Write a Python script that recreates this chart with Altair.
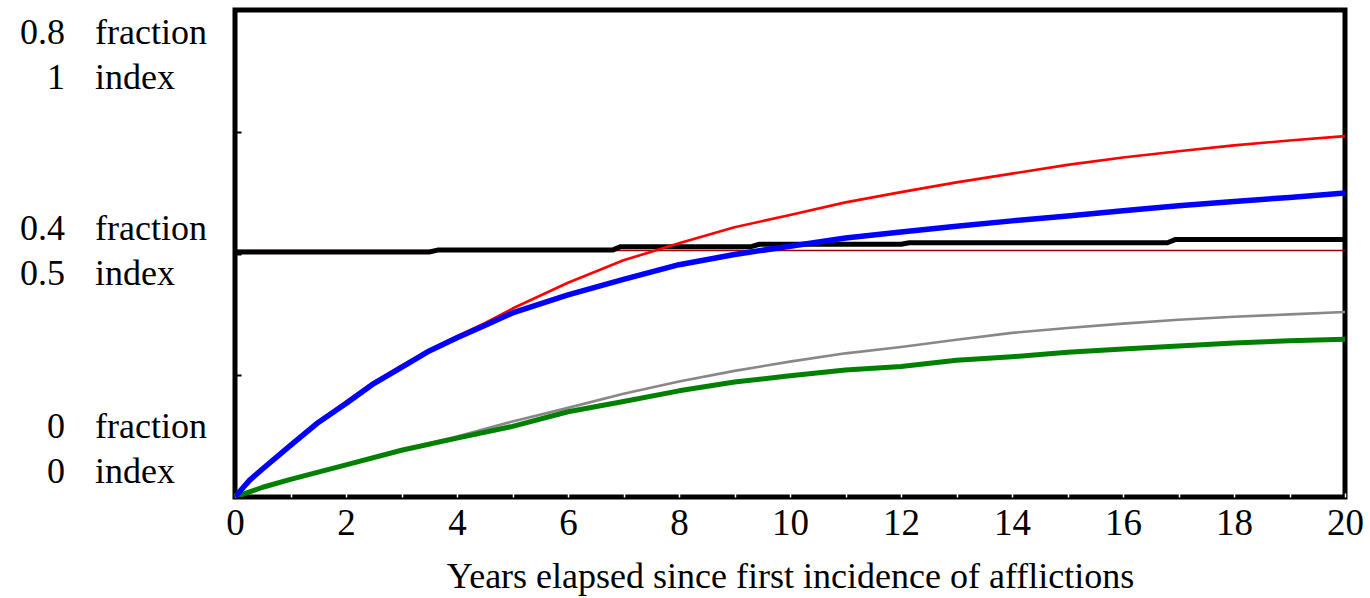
import altair as alt
import pandas as pd

FONT = "Liberation Serif"

# ---- series values (y in "index" units: 0..1, where 1 index = 0.8 fraction) ----
red_t = [0, 0.5, 1, 1.5, 2, 2.5, 3, 3.5, 4, 4.5, 5, 6, 7, 8, 9, 10, 11, 12, 13, 14, 15, 16, 17, 18, 19, 20]
red_v = [0, 0.058, 0.108, 0.155, 0.196, 0.236, 0.270, 0.302, 0.330, 0.357, 0.387, 0.440, 0.486, 0.521,
         0.554, 0.579, 0.605, 0.626, 0.646, 0.664, 0.682, 0.697, 0.710, 0.722, 0.732, 0.741]

blue_t = [0, 0.25, 0.5, 1, 1.5, 2, 2.5, 3, 3.5, 4, 4.5, 5, 6, 7, 8, 9, 10, 11, 12, 13, 14, 15, 16, 17, 18, 19, 20]
blue_v = [0, 0.033, 0.058, 0.106, 0.153, 0.192, 0.233, 0.266, 0.300, 0.327, 0.352, 0.378, 0.415, 0.447, 0.477,
          0.498, 0.515, 0.532, 0.544, 0.556, 0.567, 0.577, 0.588, 0.598, 0.607, 0.615, 0.624]

gray_t = [0, 0.5, 1, 2, 3, 4, 5, 6, 7, 8, 9, 10, 11, 12, 13, 14, 15, 16, 17, 18, 19, 20]
gray_v = [0, 0.020, 0.036, 0.066, 0.097, 0.124, 0.155, 0.183, 0.212, 0.237, 0.259, 0.278, 0.295, 0.308,
          0.323, 0.337, 0.347, 0.356, 0.364, 0.370, 0.375, 0.380]

green_t = [0, 0.5, 1, 2, 3, 4, 5, 6, 7, 8, 9, 10, 11, 12, 13, 14, 15, 16, 17, 18, 19, 20]
green_v = [0, 0.020, 0.036, 0.066, 0.096, 0.121, 0.145, 0.175, 0.196, 0.218, 0.236, 0.249, 0.261, 0.268,
           0.281, 0.288, 0.297, 0.304, 0.310, 0.316, 0.321, 0.324]

black_t = [0, 3.5, 3.65, 6.8, 6.95, 9.3, 9.45, 12.0, 12.15, 16.8, 16.95, 20]
black_v = [0.503, 0.503, 0.507, 0.507, 0.514, 0.514, 0.519, 0.519, 0.522, 0.522, 0.529, 0.529]

ref_t = [0, 20]
ref_v = [0.506, 0.506]

# ---- left-side axis labels ----
lab_value = ["0.8", "1", "0.4", "0.5", "0", "0"]
lab_unit = ["fraction", "index", "fraction", "index", "fraction", "index"]
lab_pos = [0.953, 0.860, 0.550, 0.458, 0.144, 0.051]

x_tick_values = list(range(0, 21))
y_tick_values = [0.25, 0.5, 0.75]

rows = []
for name, ts, vs in [("ref", ref_t, ref_v), ("black", black_t, black_v), ("gray", gray_t, gray_v),
                     ("green", green_t, green_v), ("red", red_t, red_v), ("blue", blue_t, blue_v)]:
    for t, v in zip(ts, vs):
        rows.append({"series": name, "t": t, "v": v})
df = pd.DataFrame(rows)

labels = pd.DataFrame({"value": lab_value, "unit": lab_unit, "pos": lab_pos})

xscale = alt.Scale(domain=[0, 20], nice=False, zero=False)
yscale = alt.Scale(domain=[0, 1], nice=False, zero=False)

xaxis = alt.Axis(values=x_tick_values, title="Years elapsed since first incidence of afflictions",
                 labelExpr="datum.value % 2 == 0 ? datum.label : ''",
                 domain=False, grid=False, tickColor="white", tickSize=4, tickWidth=1.5, offset=-4,
                 labelFont=FONT, labelFontSize=37, labelColor="black", labelPadding=8,
                 labelFontWeight="normal", labelFlush=False, labelOverlap=False,
                 titleFont=FONT, titleFontSize=36, titleFontWeight="normal", titleColor="black",
                 titlePadding=18)
yaxis = alt.Axis(values=y_tick_values, labels=False, title=None, domain=False, grid=False,
                 tickColor="black", tickSize=6, tickWidth=2, offset=-6)

base = alt.Chart(df)

styles = {
    "ref": ("#a00000", 1.5),
    "black": ("#000000", 5),
    "gray": ("#888888", 2.6),
    "green": ("#008000", 5),
    "red": ("#ff0000", 2.6),
    "blue": ("#0000ff", 5.5),
}

X = alt.X("t:Q", scale=xscale, axis=xaxis)

layers = []
for name in ["ref", "black", "gray", "green", "red", "blue"]:
    color, width = styles[name]
    layer = base.transform_filter(alt.datum.series == name).mark_line(
        color=color, strokeWidth=width, clip=True, strokeJoin="round"
    ).encode(
        x=X,
        y=alt.Y("v:Q", scale=yscale, axis=yaxis),
    )
    layers.append(layer)

lab_base = alt.Chart(labels)
val_text = lab_base.mark_text(align="right", baseline="middle", font=FONT, fontSize=36, color="black").encode(
    x=alt.value(-170), y=alt.Y("pos:Q", scale=yscale, axis=yaxis), text="value:N")
unit_text = lab_base.mark_text(align="left", baseline="middle", font=FONT, fontSize=36, color="black").encode(
    x=alt.value(-140), y=alt.Y("pos:Q", scale=yscale, axis=yaxis), text="unit:N")

chart = alt.layer(*layers, val_text, unit_text).properties(
    width=1110, height=487,
    autosize=alt.AutoSizeParams(type="none"),
    padding={"left": 235, "top": 10, "right": 25, "bottom": 101},
    background="white",
).configure_view(stroke="black", strokeWidth=5)

chart.save("out.html", embed_options={"renderer": "svg", "actions": False})
